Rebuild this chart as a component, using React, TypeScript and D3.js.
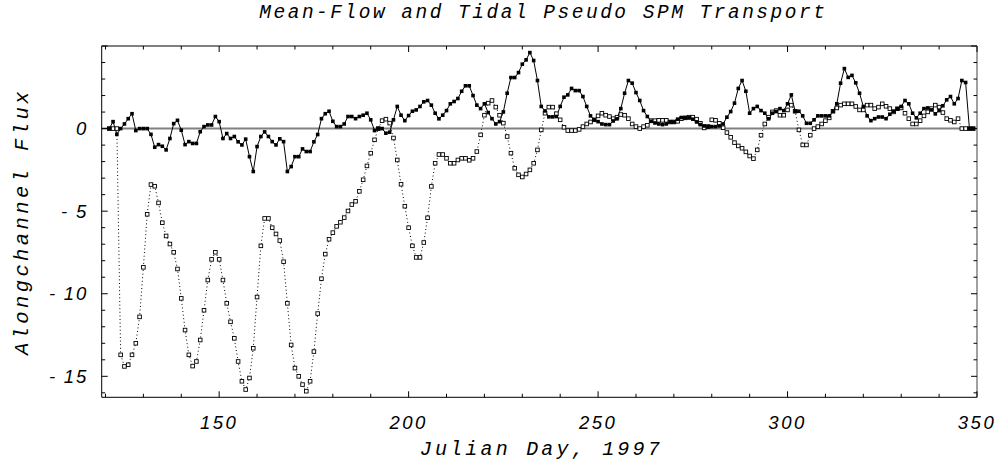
import * as d3 from "d3";

// Julian day of each sample, 1997
const days = d3.range(121, 350);

// mean-flow pseudo SPM transport (filled squares, solid line)
const meanFlow = [
  0, 0.42, -0.35, 0, 0.28, 0.6, 0.9, -0.12, 0, 0,
  0, -0.35, -1.13, -0.97, -1.07, -1.29, -0.6, 0.3, 0.5, -0.1,
  -0.97, -0.79, -0.9, -0.9, -0.19, 0.12, 0.22, 0.22, 0.73, 0.42,
  -0.6, -0.3, -0.6, -0.48, -0.8, -0.99, -0.64, -1.7, -2.6, -1.09,
  -0.48, -0.2, -0.48, -0.79, -0.99, -0.62, -0.79, -2.6, -2.3, -1.7,
  -1.7, -1.23, -1.39, -1.39, -0.8, -0.36, 0.6, 0.9, 1.05, 0.44,
  0.12, 0.12, 0.28, 0.73, 0.73, 0.6, 0.73, 0.81, 0.93, 0.53,
  -0.12, 0, 0, -0.28, -0.22, 0.53, 1.34, 0.81, 0.48, 0.79,
  1.05, 1.13, 1.34, 1.62, 1.7, 1.42, 0.93, 0.59, 0.81, 1.09,
  1.5, 1.64, 1.82, 2.26, 2.59, 2.59, 2.0, 1.42, 1.21, 1.5,
  0.97, 0.6, 0.28, 0.42, 1.01, 2.14, 3.09, 3.09, 3.39, 3.9,
  4.16, 4.6, 4.12, 2.91, 1.34, 1.07, 0.71, 0.71, 0.73, 1.34,
  1.9, 2.04, 2.43, 2.3, 2.3, 1.94, 1.34, 0.77, 0.53, 0.42,
  0.28, 0.24, 0.24, 0.46, 0.59, 1.21, 2.14, 2.91, 2.75, 2.18,
  1.7, 1.09, 0.73, 0.44, 0.34, 0.28, 0.24, 0.28, 0.4, 0.4,
  0.57, 0.67, 0.65, 0.65, 0.57, 0.4, 0.24, 0.16, 0.12, 0.12,
  0.12, 0.16, 0.28, 0.69, 1.03, 1.54, 2.43, 2.91, 2.26, 0.93,
  1.21, 1.34, 1.09, 0.93, 0.59, 0.93, 1.03, 1.21, 1.09, 1.5,
  2.04, 1.05, 1.05, 0.77, 0.32, 0.32, 0.53, 0.77, 0.77, 0.77,
  0.77, 1.05, 1.5, 2.75, 3.63, 3.1, 3.22, 2.77, 2.14, 1.34,
  0.77, 0.48, 0.6, 0.7, 0.7, 0.6, 0.87, 1.05, 1.2, 1.34,
  1.7, 1.5, 0.93, 0.65, 0.93, 1.21, 1.25, 1.13, 0.89, 1.09,
  1.38, 1.74, 1.94, 1.5, 1.82, 2.91, 2.79, 0, 0,
];

// tidal pseudo SPM transport (open squares, dotted line)
const tidal = [
  0, 0, 0, -13.7, -14.4, -14.3, -13.7, -13.0, -11.4, -8.4,
  -5.19, -3.39, -3.49, -4.5, -5.7, -6.5, -6.99, -7.49, -8.5, -10.28,
  -12.2, -13.7, -14.38, -14.1, -12.8, -11.0, -9.17, -7.92, -7.49, -7.92,
  -9.17, -10.58, -11.7, -12.7, -14.1, -15.3, -15.8, -15.1, -13.3, -10.2,
  -7.1, -5.44, -5.44, -6.0, -6.38, -6.78, -8.06, -10.58, -13.1, -14.5,
  -15.0, -15.5, -15.9, -15.3, -13.5, -11.2, -9.09, -7.6, -6.7, -6.3,
  -5.92, -5.67, -5.39, -4.99, -4.6, -4.4, -3.8, -3.1, -2.26, -1.49,
  -0.68, 0.0, 0.48, 0.57, 0.33, -0.57, -1.9, -3.37, -4.7, -6.0,
  -7.1, -7.8, -7.8, -6.9, -5.4, -3.5, -2.1, -1.57, -1.57, -1.8,
  -2.1, -2.1, -1.9, -1.8, -1.8, -1.92, -1.8, -1.39, -0.38, 0.81,
  1.54, 1.7, 1.3, 0.81, 0.33, -0.48, -1.49, -2.4, -2.8, -2.93,
  -2.75, -2.5, -2.1, -1.29, -0.08, 0.93, 1.3, 1.3, 0.9, 0.53,
  0.08, -0.12, -0.12, -0.12, -0.05, 0.12, 0.28, 0.4, 0.53, 0.77,
  0.93, 0.81, 0.73, 0.6, 0.69, 0.85, 0.81, 0.6, 0.28, 0.12,
  0, 0.12, 0.2, 0.48, 0.48, 0.5, 0.5, 0.5, 0.4, 0.4,
  0.44, 0.6, 0.65, 0.69, 0.69, 0.57, 0.32, 0.04, 0.12, 0.53,
  0.5, 0.32, 0.05, -0.24, -0.53, -0.85, -1.05, -1.19, -1.41, -1.66,
  -1.82, -1.29, -0.4, 0.28, 0.69, 1.01, 1.09, 0.81, 0.81, 1.13,
  1.42, 1.05, -0.08, -0.99, -0.99, -0.4, 0, 0.12, 0.28, 0.48,
  0.65, 1.05, 1.25, 1.42, 1.5, 1.5, 1.5, 1.34, 1.13, 1.13,
  1.42, 1.42, 1.21, 1.3, 1.5, 1.35, 1.21, 1.01, 1.2, 1.25,
  0.93, 0.6, 0.28, 0.28, 0.48, 0.77, 1.01, 1.21, 1.42, 1.3,
  0.97, 0.6, 0.5, 0.4, 0.6, 0, 0, 0, 0,
];

const xTicks = [150, 200, 250, 300, 350];
const yTicks = [0, -5, -10, -15];

const W = 997;
const H = 464;
const left = 101.7, right = 977, top = 46, bottom = 397.3;

const tickFont = "'Liberation Sans', Arial, sans-serif";
const monoFont = "'Liberation Mono', 'Courier New', monospace";

function fmt(v: number) {
  return v < 0 ? `- ${-v}` : `${v}`;
}

export default function App() {
  const x = d3.scaleLinear().domain([119, 350]).range([left, right]);
  const y = d3.scaleLinear().domain([-16.27, 5]).range([bottom, top]);

  const line = d3
    .line<number>()
    .x((_, i) => x(days[i]))
    .y((d) => y(d));

  const xMinor = d3.range(120, 351, 10);
  const yMinor = d3.range(-16, 6, 1);
  const ms = 3.6;

  return (
    <svg
      width={W}
      height={H}
      style={{ position: "absolute", left: 0, top: 0, background: "#fff" }}
    >
      <text
        x={(left + right) / 2 + 4}
        y={18}
        textAnchor="middle"
        fontFamily={monoFont}
        fontStyle="italic"
        fontSize={19.5}
        letterSpacing={2.5}
      >
        Mean-Flow and Tidal Pseudo SPM Transport
      </text>

      {/* zero line */}
      <line x1={left} x2={right} y1={y(0)} y2={y(0)} stroke="#808080" strokeWidth={2} />

      {/* frame */}
      <path
        d={`M${right},${top} H${left} V${bottom} H${right}`}
        fill="none"
        stroke="#000"
        strokeWidth={1}
      />
      <line x1={right} x2={right} y1={top} y2={bottom} stroke="#808080" strokeWidth={1.5} />

      {/* x ticks, bottom and top */}
      {xMinor.map((t) => {
        const len = t % 50 === 0 ? 6 : 3.5;
        return (
          <g key={"xt" + t} stroke="#000" strokeWidth={1}>
            <line x1={x(t)} x2={x(t)} y1={bottom} y2={bottom - len} />
            <line x1={x(t)} x2={x(t)} y1={top} y2={top + len} />
          </g>
        );
      })}
      {/* y ticks, left and right */}
      {yMinor.map((t) => {
        const len = t % 5 === 0 ? 6 : 3.5;
        return (
          <g key={"yt" + t} stroke="#000" strokeWidth={1}>
            <line x1={left} x2={left + len} y1={y(t)} y2={y(t)} />
            <line x1={right} x2={right - len} y1={y(t)} y2={y(t)} />
          </g>
        );
      })}

      {xTicks.map((t) => (
        <text
          key={"xl" + t}
          x={x(t)}
          y={429}
          textAnchor="middle"
          fontFamily={tickFont}
          fontStyle="italic"
          fontSize={18.5}
          letterSpacing={2.5}
        >
          {t}
        </text>
      ))}
      {yTicks.map((t) => (
        <text
          key={"yl" + t}
          x={88}
          y={y(t) + 6.5}
          textAnchor="end"
          fontFamily={tickFont}
          fontStyle="italic"
          fontSize={18.5}
          letterSpacing={1.8}
        >
          {fmt(t)}
        </text>
      ))}

      <text
        x={(left + right) / 2 + 2}
        y={455}
        textAnchor="middle"
        fontFamily={monoFont}
        fontStyle="italic"
        fontSize={20}
        letterSpacing={3.2}
      >
        Julian Day, 1997
      </text>
      <text
        transform={`translate(28,${(top + bottom) / 2}) rotate(-90)`}
        textAnchor="middle"
        fontFamily={monoFont}
        fontStyle="italic"
        fontSize={20.5}
        letterSpacing={3.4}
      >
        Alongchannel Flux
      </text>

      {/* tidal: dotted line with open squares */}
      <path
        d={line(tidal) ?? ""}
        fill="none"
        stroke="#000"
        strokeWidth={1}
        strokeDasharray="1 2.6"
      />
      {/* mean flow: solid line with filled squares */}
      <path d={line(meanFlow) ?? ""} fill="none" stroke="#000" strokeWidth={1} />
      {tidal.map((v, i) => (
        <rect
          key={"t" + i}
          x={x(days[i]) - ms / 2}
          y={y(v) - ms / 2}
          width={ms}
          height={ms}
          fill="#fff"
          stroke="#000"
          strokeWidth={0.9}
        />
      ))}
      {meanFlow.map((v, i) => (
        <rect
          key={"m" + i}
          x={x(days[i]) - ms / 2}
          y={y(v) - ms / 2}
          width={ms}
          height={ms}
          fill="#000"
        />
      ))}
    </svg>
  );
}
